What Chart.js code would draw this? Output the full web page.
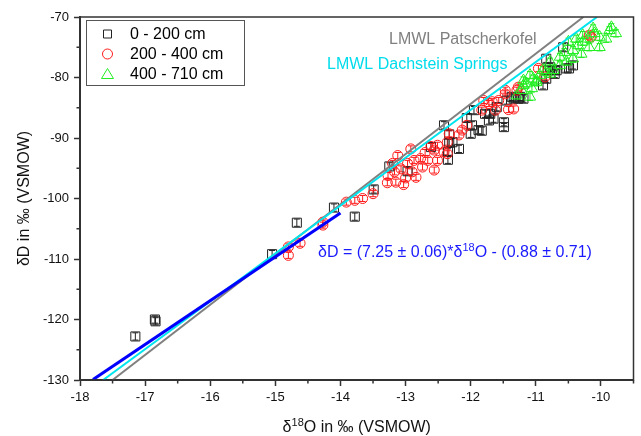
<!DOCTYPE html>
<html>
<head>
<meta charset="utf-8">
<script src="https://cdn.jsdelivr.net/npm/chart.js@4/dist/chart.umd.min.js"></script>
<style>
  body { margin: 0; background: #fff; }
  #wrap { width: 641px; height: 436px; position: relative; }
</style>
</head>
<body>
<div id="wrap"><canvas id="chartIso"></canvas></div>
<script>
/* global Chart */

// ===== data =====
// 0 - 200 cm (squares)
const d18O_0_200 = [-17.15, -16.85, -16.84, -15.05, -14.67, -14.1, -13.78, -13.49, -13.25, -12.97,
  -12.61, -12.41, -12.33, -12.33, -12.35, -12.35, -12.18, -12.06, -12.0, -11.98,
  -11.95, -11.88, -11.83, -11.78, -11.72, -11.7, -11.65, -11.6, -11.49, -11.49,
  -11.45, -11.37, -11.34, -11.27, -11.24, -11.19, -10.89, -10.84, -10.84, -10.81,
  -10.78, -10.71, -10.71, -10.68, -10.58, -10.53, -10.49, -10.43, -12.28];
const dD_0_200 = [-122.8, -120.0, -120.3, -109.2, -104.0, -101.5, -103.0, -98.5, -94.7, -95.5,
  -91.5, -87.9, -89.4, -90.8, -93.6, -92.3, -91.8, -86.7, -89.3, -87.9,
  -85.4, -88.7, -88.8, -86.0, -87.1, -86.0, -86.8, -84.9, -87.4, -88.2,
  -83.8, -83.2, -83.5, -83.5, -83.2, -83.5, -81.3, -80.2, -76.9, -78.8,
  -78.3, -79.4, -78.8, -78.8, -75.0, -78.5, -78.5, -78.0, -90.7];

// 200 - 400 cm (circles)
const d18O_200_400 = [-14.8, -14.8, -14.62, -14.27, -14.27, -13.91, -13.78, -13.66, -13.5, -13.28,
  -13.15, -13.03, -12.84, -13.27, -13.17, -13.07, -12.97, -12.87, -12.77, -12.66,
  -12.74, -12.56, -12.51, -12.92, -12.61, -12.56, -12.41, -12.36, -12.36, -12.33,
  -13.2, -13.12, -12.51, -12.18, -12.13, -12.06, -11.83, -11.72, -11.67, -11.57,
  -11.47, -11.42, -11.34, -11.29, -11.62, -11.8, -11.47, -11.27, -10.96, -10.86,
  -10.18, -10.15, -12.9, -12.7, -13.0];
const dD_200_400 = [-108.0, -109.4, -107.4, -103.9, -104.4, -100.6, -100.3, -100.0, -99.2, -97.4,
  -97.3, -97.7, -96.5, -96.2, -95.6, -95.1, -94.2, -93.7, -93.4, -93.7,
  -94.8, -95.3, -93.7, -91.8, -91.4, -92.0, -92.3, -92.6, -90.7, -89.3,
  -94.2, -92.9, -91.2, -89.5, -88.7, -87.9, -85.4, -84.3, -84.0, -83.8,
  -82.7, -85.3, -85.2, -82.1, -85.4, -83.8, -82.1, -81.6, -78.5, -79.9,
  -73.0, -73.3, -95.6, -92.4, -96.6];

// 400 - 710 cm (triangles)
const d18O_400_710 = [-11.29, -11.22, -11.19, -11.19, -11.14, -11.09, -11.09, -11.06, -11.04, -10.99,
  -10.99, -10.94, -10.89, -10.84, -10.78, -10.78, -10.73, -10.63, -10.63, -10.56,
  -10.53, -10.5, -10.43, -10.43, -10.38, -10.35, -10.3, -10.28, -10.28, -10.2,
  -10.18, -10.12, -10.1, -10.02, -10.02, -9.92, -9.87, -9.84, -9.77];
const dD_400_710 = [-83.0, -82.1, -80.5, -81.3, -81.0, -83.2, -79.6, -81.8, -80.2, -80.8,
  -80.5, -79.6, -78.8, -79.1, -77.4, -79.4, -78.8, -76.6, -78.0, -75.8,
  -77.4, -74.1, -75.5, -76.9, -73.6, -74.7, -76.1, -74.1, -73.0, -73.6,
  -75.0, -71.9, -72.7, -73.3, -75.0, -73.6, -72.2, -71.7, -72.7];

// error bars (dD, per series)
const errD = [0.6, 0.5, 0.6];

// meteoric water lines (end points)
const patscherX = [-17.5, -10.27];
const patscherY = [-130, -70];
const dachsteinX = [-17.645, -10.06];
const dachsteinY = [-130, -70];
const fitX = [-17.8, -14.0];
const fitY = [-129.93, -102.38];

const seriesLabels = ["0 - 200 cm", "200 - 400 cm", "400 - 710 cm"];
const xTicks = { min: -18, max: -9.5, step: 1 };
const yTicks = { min: -130, max: -70, step: 10 };

const FONT = "'Liberation Sans', Arial, sans-serif";

function pts(xs, ys) {
  return xs.map((x, i) => ({ x: x, y: ys[i] }));
}

// ===== plugin: error bars, frame, minor ticks, legend, texts =====
const extras = {
  id: "extras",
  beforeDatasetsDraw(chart) {
    const c = chart.ctx;
    const xs = chart.scales.x, ys = chart.scales.y;
    c.save();
    [0, 1, 2].forEach((di) => {
      const ds = chart.data.datasets[di];
      c.strokeStyle = ds.borderColor;
      c.lineWidth = 1;
      ds.data.forEach((p) => {
        const px = xs.getPixelForValue(p.x);
        const top = ys.getPixelForValue(p.y + errD[di]);
        const bot = ys.getPixelForValue(p.y - errD[di]);
        c.beginPath();
        c.moveTo(px, top); c.lineTo(px, bot);
        c.moveTo(px - 3, top); c.lineTo(px + 3, top);
        c.moveTo(px - 3, bot); c.lineTo(px + 3, bot);
        c.stroke();
      });
    });
    c.restore();
  },
  afterDraw(chart) {
    const c = chart.ctx;
    const a = chart.chartArea;
    const xs = chart.scales.x, ys = chart.scales.y;
    c.save();

    // frame
    c.strokeStyle = "#333";
    c.lineWidth = 1.5;
    c.strokeRect(a.left, a.top, a.right - a.left, a.bottom - a.top);

    // minor ticks
    c.lineWidth = 1.5;
    c.beginPath();
    for (let v = xTicks.min + 0.5; v <= xTicks.max; v += 1) {
      const px = xs.getPixelForValue(v);
      c.moveTo(px, a.bottom); c.lineTo(px, a.bottom + 3.5);
    }
    for (let v = yTicks.min + 5; v < yTicks.max; v += 10) {
      const py = ys.getPixelForValue(v);
      c.moveTo(a.left, py); c.lineTo(a.left - 3.5, py);
    }
    c.stroke();

    // legend
    const lx = 86.5, ly = 20.5, lw = 158, lh = 65;
    c.fillStyle = "#fff";
    c.fillRect(lx, ly, lw, lh);
    c.strokeStyle = "#555";
    c.lineWidth = 1;
    c.strokeRect(lx, ly, lw, lh);
    c.font = "16px " + FONT;
    c.textBaseline = "middle";
    c.textAlign = "left";
    const rows = [34, 54, 74];
    rows.forEach((ry, i) => {
      const ds = chart.data.datasets[i];
      c.strokeStyle = ds.borderColor;
      c.lineWidth = 1;
      c.beginPath();
      if (i === 0) {
        c.rect(103.5, ry - 4, 8, 8);
      } else if (i === 1) {
        c.arc(107.5, ry, 5, 0, Math.PI * 2);
      } else {
        c.moveTo(107.5, ry - 5.5); c.lineTo(113.5, ry + 4.5); c.lineTo(101.5, ry + 4.5); c.closePath();
      }
      c.stroke();
      c.fillStyle = "#000";
      c.fillText(seriesLabels[i], 130, ry + 1);
    });

    // line labels
    c.textBaseline = "alphabetic";
    c.fillStyle = "#808080";
    c.fillText("LMWL Patscherkofel", 389, 44);
    c.fillStyle = "#00dcec";
    c.fillText("LMWL Dachstein Springs", 327, 69);

    // regression equation with superscript
    function supText(parts, x, y, color) {
      c.fillStyle = color;
      let cx = x;
      parts.forEach((p) => {
        c.font = (p.sup ? "11px " : "16px ") + FONT;
        c.fillText(p.t, cx, p.sup ? y - 6 : y);
        cx += c.measureText(p.t).width;
      });
      return cx - x;
    }
    function widthOf(parts) {
      let w = 0;
      parts.forEach((p) => {
        c.font = (p.sup ? "11px " : "16px ") + FONT;
        w += c.measureText(p.t).width;
      });
      return w;
    }
    const eq = [
      { t: "\u03B4D = (7.25 \u00B1 0.06)*\u03B4" },
      { t: "18", sup: true },
      { t: "O - (0.88 \u00B1 0.71)" },
    ];
    supText(eq, 318, 257, "#1a1aff");

    // x axis title
    const xt = [
      { t: "\u03B4" },
      { t: "18", sup: true },
      { t: "O in \u2030 (VSMOW)" },
    ];
    const xw = widthOf(xt);
    supText(xt, (a.left + a.right) / 2 - xw / 2, 432, "#111");

    // y axis title
    c.translate(25, (a.top + a.bottom) / 2);
    c.rotate(-Math.PI / 2);
    c.font = "16px " + FONT;
    c.fillStyle = "#111";
    c.textAlign = "center";
    c.textBaseline = "middle";
    c.fillText("\u03B4D in \u2030 (VSMOW)", 0, 0);

    c.restore();
  },
};

// ===== chart =====
const ctx = document.getElementById("chartIso");

new Chart(ctx, {
  type: "scatter",
  data: {
    datasets: [
      {
        label: seriesLabels[0],
        data: pts(d18O_0_200, dD_0_200),
        pointStyle: "rect",
        pointRadius: 6.4,
        borderColor: "#222",
        backgroundColor: "rgba(0,0,0,0)",
        borderWidth: 1,
        order: 5,
      },
      {
        label: seriesLabels[1],
        data: pts(d18O_200_400, dD_200_400),
        pointStyle: "circle",
        pointRadius: 5,
        borderColor: "#ff1a1a",
        backgroundColor: "rgba(0,0,0,0)",
        borderWidth: 1,
        order: 4,
      },
      {
        label: seriesLabels[2],
        data: pts(d18O_400_710, dD_400_710),
        pointStyle: "triangle",
        pointRadius: 6.5,
        borderColor: "#22ee22",
        backgroundColor: "rgba(0,0,0,0)",
        borderWidth: 1,
        order: 3,
      },
      {
        label: "LMWL Patscherkofel",
        type: "line",
        data: pts(patscherX, patscherY),
        borderColor: "#808080",
        borderWidth: 2,
        pointRadius: 0,
        showLine: true,
        order: 2,
      },
      {
        label: "LMWL Dachstein Springs",
        type: "line",
        data: pts(dachsteinX, dachsteinY),
        borderColor: "#00e5ee",
        borderWidth: 2,
        pointRadius: 0,
        showLine: true,
        order: 1,
      },
      {
        label: "fit",
        type: "line",
        data: pts(fitX, fitY),
        borderColor: "#0000ff",
        borderWidth: 3,
        pointRadius: 0,
        showLine: true,
        order: 0,
      },
    ],
  },
  options: {
    responsive: true,
    maintainAspectRatio: false,
    animation: false,
    layout: { padding: { top: 17, right: 4, left: 0, bottom: 0 } },
    plugins: {
      legend: { display: false },
      tooltip: { enabled: false },
    },
    scales: {
      x: {
        type: "linear",
        min: xTicks.min,
        max: xTicks.max,
        border: { color: "#333", width: 2 },
        grid: { drawOnChartArea: false, tickLength: 6, tickWidth: 1.5, tickColor: "#333" },
        ticks: {
          stepSize: xTicks.step,
          includeBounds: false,
          color: "#111",
          padding: 4,
          maxRotation: 0,
          font: { family: FONT, size: 13 },
        },
        afterFit: (s) => { s.height = 56; },
      },
      y: {
        type: "linear",
        min: yTicks.min,
        max: yTicks.max,
        border: { color: "#333", width: 2 },
        grid: { drawOnChartArea: false, tickLength: 6, tickWidth: 1.5, tickColor: "#333" },
        ticks: {
          stepSize: yTicks.step,
          color: "#111",
          padding: 5,
          font: { family: FONT, size: 13 },
        },
        afterFit: (s) => { s.width = 80; },
      },
    },
  },
  plugins: [extras],
});
</script>
</body>
</html>
